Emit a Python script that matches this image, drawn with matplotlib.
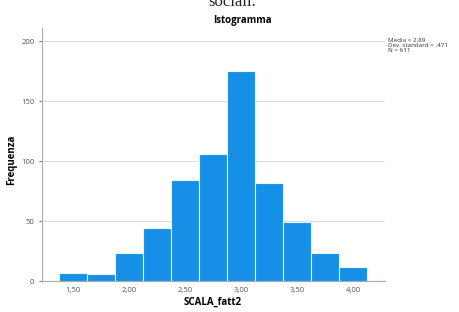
import matplotlib
matplotlib.use('Agg')
import matplotlib.pyplot as plt

# Histogram bins (centres) and counts
bin_centres = [1.50, 1.75, 2.00, 2.25, 2.50, 2.75, 3.00, 3.25, 3.50, 3.75, 4.00]
counts = [7, 6, 23, 44, 84, 106, 175, 82, 49, 23, 12]
xtick_vals = [1.5, 2.0, 2.5, 3.0, 3.5, 4.0]
xtick_labels = ['1,50', '2,00', '2,50', '3,00', '3,50', '4,00']
ytick_vals = [0, 50, 100, 150, 200]
stats_lines = ['Media = 2,89', 'Dev. standard = ,471', 'N = 611']

plt.rcParams['font.family'] = ['Open Sans', 'DejaVu Sans']

fig = plt.figure(figsize=(4.59, 3.12), dpi=100)
ax = fig.add_axes([42 / 459, 1 - 281 / 312, (385 - 42) / 459, (281 - 28) / 312])

ax.bar(bin_centres, counts, width=0.25, color='#1590e6', edgecolor='#e8f3fc', linewidth=0.8, zorder=3)

ax.set_xlim(1.223, 4.286)
ax.set_ylim(0, 211)
ax.set_xticks(xtick_vals)
ax.set_xticklabels(xtick_labels)
ax.set_yticks(ytick_vals)
ax.tick_params(labelsize=5.5, colors='#555555', length=2, width=0.5)
ax.tick_params(axis='x', length=0, pad=4)
ax.yaxis.grid(True, color='#dcdcdc', linewidth=0.8, zorder=0)
for s in ['top', 'right']:
    ax.spines[s].set_visible(False)
for s in ['left', 'bottom']:
    ax.spines[s].set_color('#aaaaaa')
    ax.spines[s].set_linewidth(0.8)

# axis titles placed like the SPSS output
fig.text(213 / 459, 1 - 302 / 312, 'SCALA_fatt2', fontsize=7, fontweight='bold', ha='center', va='center')
fig.text(12 / 459, 1 - 160 / 312, 'Frequenza', fontsize=7, fontweight='bold', ha='center', va='center',
         rotation=90)

fig.text(242 / 459, 1 - 20 / 312, 'Istogramma', fontsize=7, fontweight='bold', ha='center', va='center')
fig.text(388 / 459, 1 - 38 / 312, '\n'.join(stats_lines), fontsize=4.5, ha='left', va='top',
         color='#333333', linespacing=1.0)
# caption from the page above, cut off at the top
fig.text(232 / 459, 1 - 2 / 312, 'sociali.', fontsize=12, family=['Liberation Serif', 'DejaVu Serif'],
         ha='center', va='center', color='#222222')

fig.savefig('out.png', dpi=100)
